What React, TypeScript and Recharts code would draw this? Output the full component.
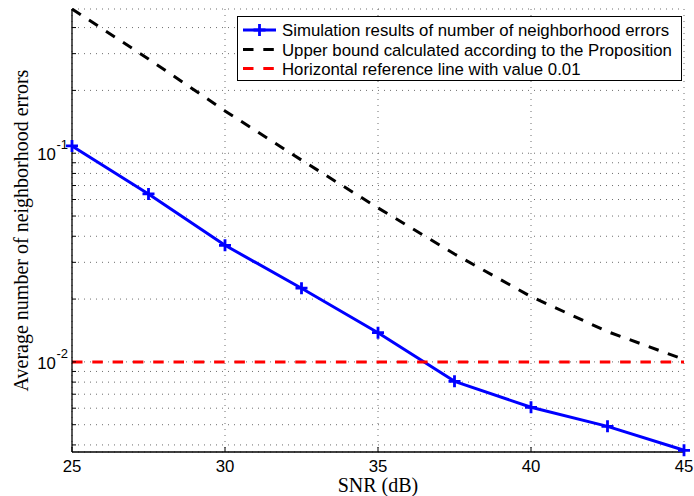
import React from 'react';
import { LineChart, Line, XAxis, YAxis, CartesianGrid } from 'recharts';

// ---- data ----
const snrValues = [25, 27.5, 30, 32.5, 35, 37.5, 40, 42.5, 45];
const simulationErrors = [0.1084, 0.0638, 0.0362, 0.02255, 0.0138, 0.00807, 0.00606, 0.00491, 0.00377];
const upperBound = [0.491, 0.283, 0.1595, 0.0927, 0.0547, 0.0329, 0.02056, 0.01397, 0.01027];
const referenceValues = [0.01, 0.01, 0.01, 0.01, 0.01, 0.01, 0.01, 0.01, 0.01];

const xTicks = [25, 30, 35, 40, 45];
const yTicks = [
  0.004, 0.005, 0.006, 0.007, 0.008, 0.009, 0.01,
  0.02, 0.03, 0.04, 0.05, 0.06, 0.07, 0.08, 0.09, 0.1,
  0.2, 0.3, 0.4,
];
const yDecadeExponents: Record<string, string> = { '0.01': '-2', '0.1': '-1' };
const yDomain = [0.0037, 0.491];
const xDomain = [25, 45];

const legendLabels = [
  'Simulation results of number of neighborhood errors',
  'Upper bound calculated according to the Proposition',
  'Horizontal reference line with value 0.01',
];
const xLabel = 'SNR (dB)';
const yLabel = 'Average number of neighborhood errors';

const BLUE = '#0000ff';
const BLACK = '#000000';
const RED = '#ff0000';
const SANS = '"Liberation Sans", Arial, Helvetica, sans-serif';
const SERIF = '"Liberation Serif", "Times New Roman", serif';
const DASH = '10.5 9.8';
const LW = 3;

const chartData = snrValues.map((snr, i) => ({
  snr,
  sim: simulationErrors[i],
  bound: upperBound[i],
  ref: referenceValues[i],
}));

const PlusDot = (props: any) => {
  const { cx, cy, index } = props;
  if (cx == null || cy == null) return <g key={index} />;
  const h = 6;
  return (
    <path
      key={index}
      d={`M${cx - h},${cy}H${cx + h}M${cx},${cy - h}V${cy + h}`}
      stroke={BLUE}
      strokeWidth={2.8}
      fill="none"
    />
  );
};

const XTick = (props: any) => {
  const { x, y, payload } = props;
  return (
    <text x={x} y={y} dy={24.7} textAnchor="middle" fontFamily={SANS} fontSize={16.8} fill="#000">
      {payload.value}
    </text>
  );
};

const YTick = (props: any) => {
  const { x, y, payload } = props;
  const exp = yDecadeExponents[String(payload.value)];
  if (!exp) return <g />;
  return (
    <text x={x} y={y + 7} textAnchor="end" fontFamily={SANS} fontSize={16.8} fill="#000">
      <tspan>10</tspan>
      <tspan dy={-11} dx={0.5} fontSize={13}>{exp}</tspan>
    </text>
  );
};

const XLabel = (props: any) => {
  const vb = props.viewBox || {};
  return (
    <text x={vb.x + vb.width / 2} y={vb.y + 40} textAnchor="middle" fontFamily={SERIF} fontSize={20} fill="#000">
      {xLabel}
    </text>
  );
};

const YLabel = (props: any) => {
  const vb = props.viewBox || {};
  const cx = vb.x + 13;
  const cy = vb.y + vb.height / 2;
  return (
    <text
      x={cx}
      y={cy}
      transform={`rotate(-90, ${cx}, ${cy})`}
      textAnchor="middle"
      dominantBaseline="central"
      fontFamily={SERIF}
      fontSize={20}
      fill="#000"
    >
      {yLabel}
    </text>
  );
};

const Legend = () => {
  const rowY = [14, 33.5, 52.5];
  const styles = [
    { stroke: BLUE, dash: undefined as string | undefined, marker: true },
    { stroke: BLACK, dash: DASH, marker: false },
    { stroke: RED, dash: DASH, marker: false },
  ];
  return (
    <svg
      width={446}
      height={66}
      style={{ position: 'absolute', left: 237, top: 16, overflow: 'visible' }}
    >
      <rect x={0.5} y={0.5} width={444} height={64} fill="#fff" stroke="#000" strokeWidth={1} />
      {legendLabels.map((label, i) => (
        <g key={label}>
          <line
            x1={6}
            x2={39}
            y1={rowY[i]}
            y2={rowY[i]}
            stroke={styles[i].stroke}
            strokeWidth={LW}
            strokeDasharray={styles[i].dash}
          />
          {styles[i].marker && (
            <path
              d={`M${22.5 - 6},${rowY[i]}H${22.5 + 6}M22.5,${rowY[i] - 6}V${rowY[i] + 6}`}
              stroke={BLUE}
              strokeWidth={2.8}
            />
          )}
          <text x={45} y={rowY[i]} dy={6} fontFamily={SANS} fontSize={16.8} fill="#000">
            {label}
          </text>
        </g>
      ))}
    </svg>
  );
};

export default function App() {
  return (
    <div style={{ position: 'relative', width: 694, height: 496, overflow: 'hidden', background: '#fff' }}>
      <style>{'html,body{margin:0;padding:0;}'}</style>
      <div style={{ position: 'absolute', left: 8, top: 8, width: 686, height: 488 }}>
        <LineChart
          width={686}
          height={488}
          data={chartData}
          margin={{ top: 1, right: 10, left: 0, bottom: 0 }}
        >
          <CartesianGrid stroke="#6e6e6e" strokeWidth={1} strokeDasharray="1 5" />
          <XAxis
            dataKey="snr"
            type="number"
            domain={xDomain}
            ticks={xTicks}
            height={44}
            axisLine={{ stroke: '#000', strokeWidth: 1.3 }}
            tickLine={{ stroke: '#000' }}
            tickSize={-5}
            tickMargin={0}
            tick={<XTick />}
            label={<XLabel />}
            interval={0}
          />
          <XAxis
            xAxisId="top"
            orientation="top"
            type="number"
            domain={xDomain}
            ticks={xTicks}
            height={0}
            axisLine={{ stroke: '#000', strokeWidth: 1.3 }}
            tickLine={{ stroke: '#000' }}
            tickSize={-5}
            tick={false}
            interval={0}
          />
          <YAxis
            type="number"
            scale="log"
            domain={yDomain}
            ticks={yTicks}
            width={64}
            axisLine={{ stroke: '#000', strokeWidth: 1.3 }}
            tickLine={{ stroke: '#000' }}
            tickSize={-4}
            tickMargin={8}
            tick={<YTick />}
            label={<YLabel />}
            interval={0}
          />
          <YAxis
            yAxisId="right"
            orientation="right"
            type="number"
            scale="log"
            domain={yDomain}
            ticks={yTicks}
            width={0}
            axisLine={{ stroke: '#000', strokeWidth: 1.3 }}
            tickLine={{ stroke: '#000' }}
            tickSize={-4}
            tick={false}
            interval={0}
          />
          <Line
            dataKey="sim"
            stroke={BLUE}
            strokeWidth={LW}
            strokeLinejoin="round"
            dot={PlusDot}
            activeDot={false}
            isAnimationActive={false}
          />
          <Line
            dataKey="bound"
            stroke={BLACK}
            strokeWidth={LW}
            strokeDasharray={DASH}
            dot={false}
            activeDot={false}
            isAnimationActive={false}
          />
          <Line
            dataKey="ref"
            stroke={RED}
            strokeWidth={LW}
            strokeDasharray={DASH}
            dot={false}
            activeDot={false}
            isAnimationActive={false}
          />
        </LineChart>
      </div>
      <Legend />
    </div>
  );
}
